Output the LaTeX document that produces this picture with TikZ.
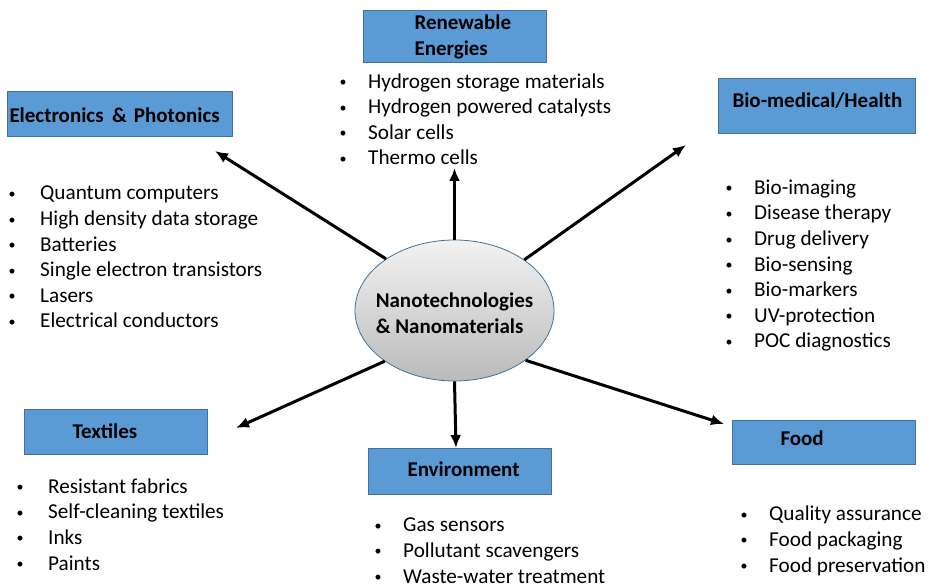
\documentclass[tikz,border=0pt]{standalone}
\usepackage{fontspec}
\setmainfont{Carlito}
\usetikzlibrary{shapes.geometric,arrows.meta}
\definecolor{boxblue}{HTML}{5B9BD5}
\definecolor{boxline}{HTML}{41719C}
\newcommand{\headfont}{\fontsize{21}{26}\selectfont\bfseries}
\newcommand{\itemfont}{\fontsize{21.2}{25.6}\selectfont}
\newcommand{\itm}[2][29.6pt]{\makebox[#1][l]{\hspace*{1pt}\raisebox{1.5pt}{\fontsize{14}{14}\selectfont\textbullet}}#2}
\newcommand{\lift}[2]{\raisebox{#1}[\height][\depth]{#2}}
\tikzstyle{area} = [draw=boxline, fill=boxblue, line width=1pt, anchor=north west, inner sep=0pt, align=left, font=\headfont]
\tikzstyle{items} = [anchor=base west, inner sep=0pt, align=left, font=\itemfont]
\tikzstyle{core} = [ellipse, draw=boxline, line width=0.8pt, top color=black!5, bottom color=black!27, minimum width=199pt, minimum height=141pt, inner xsep=-12pt, inner ysep=0pt, align=left, font=\headfont]
\tikzstyle{line} = [draw, line width=3pt, -{Latex[length=13pt,width=11pt]}]

\begin{document}
\begin{tikzpicture}[x=1pt, y=-1pt]
    \useasboundingbox (0,0) rectangle (930,585);
    \node [core] (nano) at (454.5,310.5) {\lift{-3pt}{Nanotechnologies}\\\lift{-3pt}{\& Nanomaterials}};

    \node [area, text width=183pt, minimum height=52pt] (energy) at (363,10) {\hspace*{51pt}Renewable\\\hspace*{51pt}Energies};
    \node [area, text width=225pt, minimum height=45pt] (electro) at (7,91) {\hspace*{2pt}\lift{-1pt}{Electronics \hspace{1.5pt}\& Photonics}};
    \node [area, text width=197pt, minimum height=55pt] (health) at (718,78) {\hspace*{14pt}\lift{5pt}{Bio-medical/Health}};
    \node [area, text width=183pt, minimum height=45pt] (textile) at (24,409) {\hspace*{48pt}\lift{1pt}{Textiles}};
    \node [area, text width=183pt, minimum height=46pt] (environ) at (368,448) {\hspace*{39pt}\lift{2pt}{Environment}};
    \node [area, text width=183pt, minimum height=44pt] (food) at (732,420) {\hspace*{48pt}\lift{4pt}{Food}};

    % lists are placed by the baseline of their last line
    \node [items] (energy-list) at (338.4,165) {\itm{Hydrogen storage materials}\\\itm{Hydrogen powered catalysts}\\\itm{Solar cells}\\\itm{Thermo cells}};
    \node [items] (electro-list) at (7.4,328) {\itm[32.6pt]{Quantum computers}\\\itm[32.6pt]{High density data storage}\\\itm[32.6pt]{Batteries}\\\itm[32.6pt]{Single electron transistors}\\\itm[32.6pt]{Lasers}\\\itm[32.6pt]{Electrical conductors}};
    \node [items] (health-list) at (724.4,348) {\itm{Bio-imaging}\\\itm{Disease therapy}\\\itm{Drug delivery}\\\itm{Bio-sensing}\\\itm{Bio-markers}\\\itm{UV-protection}\\\itm{POC diagnostics}};
    \node [items] (textile-list) at (15.4,570) {\itm[32.6pt]{Resistant fabrics}\\\itm[32.6pt]{Self-cleaning textiles}\\\itm[32.6pt]{Inks}\\\itm[32.6pt]{Paints}};
    \node [items] (environ-list) at (373.4,583) {\itm{Gas sensors}\\\itm{Pollutant scavengers}\\\itm{Waste-water treatment}};
    \node [items] (food-list) at (739.4,572) {\itm{Quality assurance}\\\itm{Food packaging}\\\itm{Food preservation}};

    \coordinate (tip-energy) at (454.5,168);
    \coordinate (tip-electro) at (215,151);
    \coordinate (tip-health) at (686,145);
    \coordinate (tip-textile) at (236,428);
    \coordinate (tip-environ) at (456,448);
    \coordinate (tip-food) at (724,424);

    \path [line] (nano.north) -- (tip-energy);
    \path [line] (nano.143) -- (tip-electro);
    \path [line] (nano.36) -- (tip-health);
    \path [line] (nano.216) -- (tip-textile);
    \path [line] (nano.south) -- (tip-environ);
    \path [line] (nano.-35) -- (tip-food);
\end{tikzpicture}
\end{document}
